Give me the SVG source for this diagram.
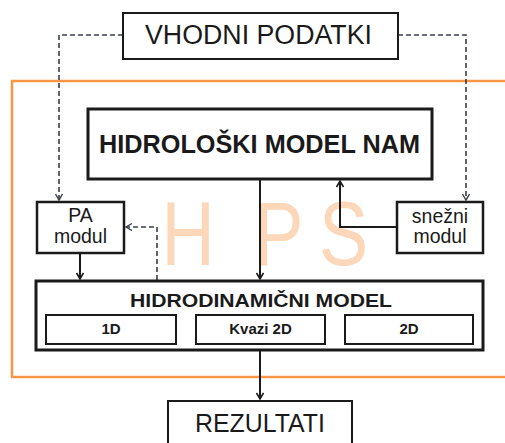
<svg xmlns="http://www.w3.org/2000/svg" width="505" height="443" viewBox="0 0 505 443">
<style>
.box{fill:#fff;stroke:#1a1a1a}
.t{font-family:"Liberation Sans",Arial,sans-serif;fill:#1a1a1a;text-anchor:middle}
.b{font-weight:bold}
.solid{fill:none;stroke:#1a1a1a;stroke-width:2}
.dash{fill:none;stroke:#3a3f4a;stroke-width:1.6;stroke-dasharray:5 3}
</style>
<defs>
<marker id="ah" markerUnits="userSpaceOnUse" markerWidth="10" markerHeight="10" refX="7" refY="4" orient="auto">
<path d="M1,0.5 L7,4 L1,7.5" fill="none" stroke="#1a1a1a" stroke-width="1.6"/>
</marker>
<marker id="ahd" markerUnits="userSpaceOnUse" markerWidth="10" markerHeight="10" refX="7" refY="4" orient="auto">
<path d="M1,0.5 L7,4 L1,7.5" fill="none" stroke="#3a3f4a" stroke-width="1.4"/>
</marker>
</defs>
<rect width="505" height="443" fill="#fff"/>
<g id="hps-frame">
<rect x="12" y="81" width="500" height="296" fill="none" stroke="#F79646" stroke-width="2.5"/>
<g transform="scale(0.82,1)">
<text x="197 310 389" y="265" font-family="Liberation Sans,Arial,sans-serif" font-size="90" fill="#FCD7B9">HPS</text>
</g>
</g>
<g id="connectors">
<path class="dash" d="M123,35 H59 V200" marker-end="url(#ahd)"/>
<path class="dash" d="M398,35 H466 V200" marker-end="url(#ahd)"/>
<path class="solid" d="M260,180 V279" marker-end="url(#ah)"/>
<path class="solid" d="M397,227 H340 V181" marker-end="url(#ah)"/>
<path class="solid" d="M80,254 V279" marker-end="url(#ah)"/>
<path class="dash" d="M157,280 V227 H126" marker-end="url(#ahd)"/>
<path class="solid" d="M260,351 V399" marker-end="url(#ah)"/>
</g>
<g id="vhodni">
<rect class="box" x="123" y="13" width="275" height="46" stroke-width="2"/>
<text class="t" x="258.5" y="44" font-size="27" textLength="227" lengthAdjust="spacingAndGlyphs">VHODNI PODATKI</text>
</g>
<g id="nam">
<rect class="box" x="88" y="109" width="344" height="70" stroke-width="3"/>
<text class="t b" x="259.5" y="153" font-size="25" textLength="321" lengthAdjust="spacingAndGlyphs">HIDROLOŠKI MODEL NAM</text>
</g>
<g id="pa">
<rect class="box" x="37" y="202" width="87" height="51" stroke-width="2.5"/>
<text class="t" x="80.5" y="222" font-size="19.5">PA</text>
<text class="t" x="80.5" y="243" font-size="19.5">modul</text>
</g>
<g id="snezni">
<rect class="box" x="397" y="202" width="86" height="51" stroke-width="2.5"/>
<text class="t" x="440" y="223" font-size="19.5">snežni</text>
<text class="t" x="440" y="243" font-size="19.5">modul</text>
</g>
<g id="hidrodinamicni">
<rect class="box" x="36" y="281" width="447" height="69" stroke-width="3"/>
<text class="t b" x="261" y="307" font-size="19" textLength="262" lengthAdjust="spacingAndGlyphs">HIDRODINAMIČNI MODEL</text>
</g>
<g id="d1">
<rect class="box" x="46" y="315" width="130" height="29" stroke-width="2"/>
<text class="t b" x="111" y="334" font-size="15">1D</text>
</g>
<g id="kvazi2d">
<rect class="box" x="196" y="315" width="129" height="29" stroke-width="2"/>
<text class="t b" x="260.5" y="334" font-size="15">Kvazi 2D</text>
</g>
<g id="d2">
<rect class="box" x="345" y="315" width="128" height="29" stroke-width="2"/>
<text class="t b" x="409" y="334" font-size="15">2D</text>
</g>
<g id="rezultati">
<rect class="box" x="168" y="401" width="184" height="50" stroke-width="2"/>
<text class="t" x="260" y="432" font-size="26" textLength="130" lengthAdjust="spacingAndGlyphs">REZULTATI</text>
</g>
</svg>
